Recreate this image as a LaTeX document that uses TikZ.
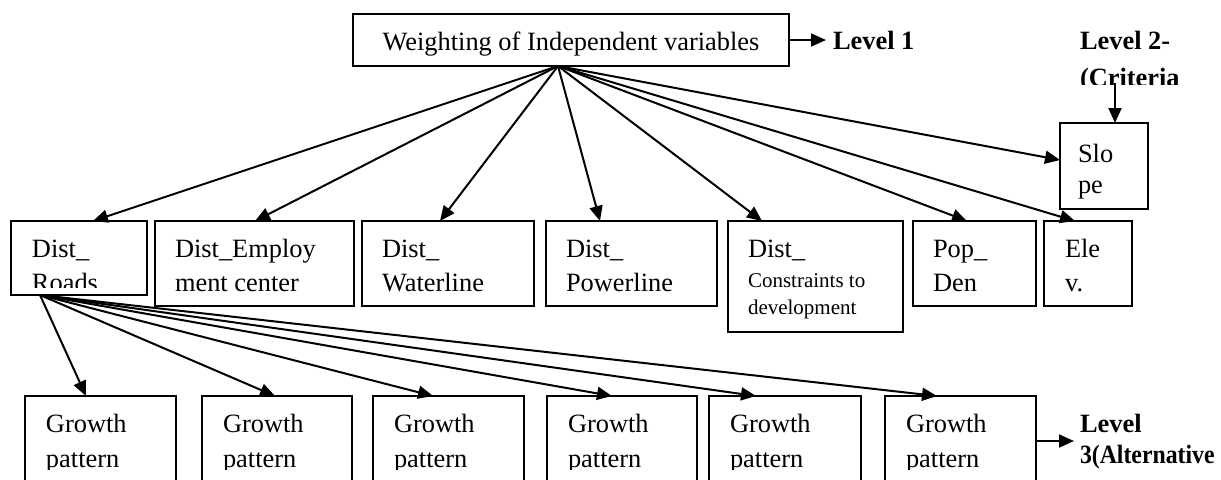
\documentclass[tikz,border=0pt]{standalone}
\usepackage{fontspec}
\setmainfont{Liberation Serif}
\usetikzlibrary{arrows.meta,calc,fit}
\begin{document}
\begin{tikzpicture}[x=0.5pt,y=-0.5pt,
  box/.style={draw,line width=1pt,inner sep=0pt,outer sep=0pt},
  txt/.style={inner sep=0pt,outer sep=0pt,anchor=base west,font=\fontsize{13.2}{15}\selectfont},
  smalltxt/.style={txt,font=\fontsize{10.5}{12}\selectfont},
  lbl/.style={txt,font=\fontsize{13.2}{15}\selectfont\bfseries},
  arr/.style={line width=1pt,-{Triangle[length=7.5pt,width=6.5pt]}}]
\useasboundingbox (0,0) rectangle (1221,479);
% level 1
\node[box,fit={(353,14) (789,66)}] (top) {};
\node[txt,anchor=base] (ttop) at (571,50) {Weighting of Independent variables};
\node[lbl] (lvl1) at (833,49) {Level 1};
\coordinate (l1tip) at (826,40);
\draw[arr] (top.east |- l1tip) -- (l1tip);
% level 2 label
\node[lbl] (lvl2a) at (1080,49) {Level 2-};
\begin{scope}
\clip (1000,0) rectangle (1221,84);
\node[lbl] (lvl2b) at (1080,86) {(Criteria};
\end{scope}
% level 2 boxes
\node[box,fit={(1060,123) (1148,209)}] (slope) {};
\node[txt] (tslope1) at (1078,162) {Slo};
\node[txt] (tslope2) at (1078,193) {pe};
\coordinate (l2start) at (1115,83);
\draw[arr] (l2start) -- (l2start |- slope.north);

\node[box,fit={(11,221) (147,295)}] (roads) {};
\node[txt] (troads1) at (32,257) {Dist\_};
\begin{scope}
\clip (11,221) rectangle (147,287);
\node[txt] (troads2) at (32,291) {Roads};
\end{scope}
\node[box,fit={(155,221) (354,306)}] (employ) {};
\node[txt] (temp1) at (175,257) {Dist\_Employ};
\node[txt] (temp2) at (175,291) {ment center};
\node[box,fit={(362,221) (534,306)}] (water) {};
\node[txt] (twat1) at (382,257) {Dist\_};
\node[txt] (twat2) at (382,291) {Waterline};
\node[box,fit={(546,221) (717,306)}] (power) {};
\node[txt] (tpow1) at (566,257) {Dist\_};
\node[txt] (tpow2) at (566,291) {Powerline};
\node[box,fit={(728,221) (903,332)}] (constr) {};
\node[txt] (tcon1) at (748,257) {Dist\_};
\node[smalltxt] (tcon2) at (748,287) {Constraints to};
\node[smalltxt] (tcon3) at (748,314) {development};
\node[box,fit={(913,221) (1036,306)}] (pop) {};
\node[txt] (tpop1) at (933,257) {Pop\_};
\node[txt] (tpop2) at (933,291) {Den};
\node[box,fit={(1044,221) (1132,306)}] (elev) {};
\node[txt] (tele1) at (1065,257) {Ele};
\node[txt] (tele2) at (1065,291) {v.};

\coordinate (hub) at ($(top.south west)+(205,0)$);
\draw[arr] (hub) -- ($(roads.north west)+(82,0)$);
\draw[arr] (hub) -- ($(employ.north west)+(100,0)$);
\draw[arr] (hub) -- ($(water.north west)+(78,0)$);
\draw[arr] (hub) -- ($(power.north west)+(54,0)$);
\draw[arr] (hub) -- ($(constr.north west)+(34,0)$);
\draw[arr] (hub) -- ($(pop.north west)+(54,0)$);
\draw[arr] (hub) -- ($(elev.north west)+(31,0)$);
\draw[arr] (hub) -- ($(slope.north west)+(0,37)$);

% level 3
\node[box,fit={(25,396) (176,500)}] (g1) {};
\node[box,fit={(202,396) (352,500)}] (g2) {};
\node[box,fit={(373,396) (524,500)}] (g3) {};
\node[box,fit={(547,396) (697,500)}] (g4) {};
\node[box,fit={(709,396) (861,500)}] (g5) {};
\node[box,fit={(885,396) (1036,500)}] (g6) {};
\node[txt] (tg1a) at (46,432) {Growth};
\node[txt] (tg2a) at (223,432) {Growth};
\node[txt] (tg3a) at (394,432) {Growth};
\node[txt] (tg4a) at (568,432) {Growth};
\node[txt] (tg5a) at (730,432) {Growth};
\node[txt] (tg6a) at (906,432) {Growth};
\begin{scope}
\clip (0,0) rectangle (1221,469);
\node[txt] (tg1b) at (46,467) {pattern};
\node[txt] (tg2b) at (223,467) {pattern};
\node[txt] (tg3b) at (394,467) {pattern};
\node[txt] (tg4b) at (568,467) {pattern};
\node[txt] (tg5b) at (730,467) {pattern};
\node[txt] (tg6b) at (906,467) {pattern};
\end{scope}

\coordinate (hub2) at ($(roads.south west)+(29,0)$);
\draw[arr] (hub2) -- ($(g1.north west)+(61,0)$);
\draw[arr] (hub2) -- ($(g2.north west)+(73,0)$);
\draw[arr] (hub2) -- ($(g3.north west)+(60,0)$);
\draw[arr] (hub2) -- ($(g4.north west)+(65,0)$);
\draw[arr] (hub2) -- ($(g5.north west)+(47,0)$);
\draw[arr] (hub2) -- ($(g6.north west)+(52,0)$);

\node[lbl] (lvl3a) at (1080,432) {Level};
\node[lbl] (lvl3b) at (1080,463) {\scalebox{0.9}[1]{3(Alternative}};
\coordinate (l3tip) at (1074,441);
\draw[arr] (g6.east |- l3tip) -- (l3tip);
\end{tikzpicture}
\end{document}
